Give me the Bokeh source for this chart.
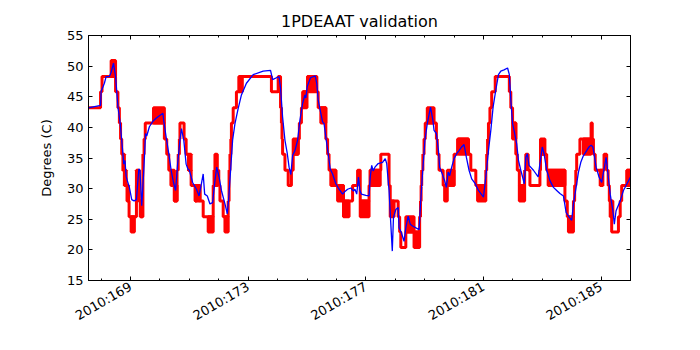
import math
from bokeh.plotting import figure
from bokeh.models import Range1d, FixedTicker, LinearAxis
from bokeh.embed import file_html
from bokeh.resources import INLINE

# ---------------- data ----------------
# model prediction (blue), day-of-year 2010 vs degC
model_day = [167.57, 167.98, 168.00, 168.06, 168.11, 168.17, 168.28, 168.34, 168.42, 168.49,
             168.57, 168.65, 168.71, 168.77, 168.81, 168.85, 168.89, 168.96, 169.04, 169.12,
             169.20, 169.28, 169.32, 169.38, 169.45, 169.51, 169.55, 169.64, 169.76, 169.87,
             169.98, 170.10, 170.13, 170.21, 170.30, 170.38, 170.46, 170.53, 170.60, 170.68,
             170.73, 170.81, 170.89, 170.95, 171.00, 171.11, 171.24, 171.33, 171.41, 171.47,
             171.52, 171.61, 171.70, 171.79, 171.87, 171.93, 172.01, 172.09, 172.21, 172.29,
             172.34, 172.40, 172.47, 172.55, 172.66, 172.77, 172.94, 173.17, 173.51, 173.76,
             173.83, 173.96, 174.05, 174.10, 174.17, 174.25, 174.33, 174.39, 174.45, 174.51,
             174.59, 174.68, 174.76, 174.85, 174.93, 174.96, 175.01, 175.12, 175.28, 175.33,
             175.38, 175.47, 175.53, 175.58, 175.64, 175.72, 175.79, 175.87, 175.98, 176.09,
             176.21, 176.26, 176.38, 176.49, 176.58, 176.63, 176.69, 176.75, 176.80, 176.85,
             177.00, 177.11, 177.15, 177.20, 177.25, 177.31, 177.42, 177.57, 177.66, 177.71,
             177.79, 177.85, 177.90, 177.94, 178.02, 178.10, 178.13, 178.21, 178.30, 178.36,
             178.44, 178.51, 178.59, 178.81, 178.86, 178.92, 179.01, 179.09, 179.20, 179.28,
             179.32, 179.40, 179.47, 179.51, 179.60, 179.68, 179.74, 179.80, 179.85, 179.92,
             180.00, 180.09, 180.17, 180.26, 180.34, 180.42, 180.51, 180.60, 180.72, 180.83,
             180.97, 181.00, 181.08, 181.17, 181.25, 181.33, 181.42, 181.51, 181.59, 181.70,
             181.82, 181.88, 181.93, 181.99, 182.05, 182.13, 182.19, 182.27, 182.33, 182.39,
             182.44, 182.49, 182.55, 182.70, 182.86, 182.92, 183.00, 183.06, 183.15, 183.26,
             183.38, 183.49, 183.60, 183.72, 183.81, 183.92, 184.00, 184.06, 184.15, 184.23,
             184.31, 184.40, 184.51, 184.59, 184.66, 184.72, 184.76, 184.83, 184.93, 185.02,
             185.17, 185.22, 185.31, 185.40, 185.45, 185.51, 185.65, 185.76, 185.88, 186.00]
model_degc = [43.2, 43.6, 45.9, 46.6, 47.2, 48.3, 48.3, 49.0, 50.5, 48.3,
              43.4, 40.6, 37.3, 34.0, 34.6, 32.0, 31.3, 30.2, 28.2, 28.0,
              28.2, 33.2, 33.0, 27.2, 33.0, 39.0, 38.6, 40.1, 41.0, 41.5,
              41.9, 42.3, 41.0, 38.4, 35.7, 33.0, 31.0, 29.7, 34.0, 37.9,
              39.8, 37.9, 34.0, 33.2, 33.0, 31.0, 29.9, 28.8, 30.8, 32.4,
              29.1, 28.8, 27.5, 27.7, 31.3, 33.5, 31.9, 29.7, 27.5, 25.9,
              28.6, 32.9, 37.9, 40.6, 43.1, 45.3, 47.2, 48.6, 49.2, 49.3,
              47.8, 48.1, 48.3, 46.4, 41.7, 37.9, 35.7, 33.5, 32.3, 35.4,
              36.2, 37.9, 41.2, 43.9, 45.3, 44.8, 46.7, 48.1, 48.4, 47.2,
              44.5, 42.3, 40.9, 40.6, 38.4, 35.7, 33.2, 32.4, 30.8, 29.9,
              29.1, 29.4, 29.9, 30.1, 29.6, 29.9, 29.1, 31.9, 29.7, 29.1,
              28.9, 28.8, 31.9, 33.8, 32.9, 33.5, 34.1, 34.3, 34.9, 34.1,
              29.7, 24.2, 19.8, 25.3, 26.6, 26.9, 23.6, 22.8, 21.4, 23.6,
              25.5, 24.2, 23.9, 23.3, 27.5, 31.9, 37.9, 40.6, 43.3, 41.2,
              39.5, 39.0, 36.2, 33.5, 32.4, 31.3, 30.2, 32.7, 32.1, 33.5,
              34.9, 35.7, 36.2, 36.8, 37.2, 35.1, 33.0, 31.6, 30.8, 29.7,
              28.8, 28.6, 31.9, 36.2, 39.5, 43.4, 46.1, 48.6, 49.2, 49.4,
              49.7, 48.6, 44.5, 40.6, 39.3, 37.3, 34.6, 33.0, 31.9, 30.8,
              35.1, 35.7, 33.8, 33.0, 31.9, 34.1, 36.8, 35.7, 33.0, 31.3,
              30.2, 29.7, 29.2, 28.8, 26.1, 25.3, 24.8, 27.5, 30.2, 32.7,
              34.3, 35.4, 36.2, 36.8, 37.1, 36.8, 35.7, 33.5, 31.9, 31.0,
              35.1, 33.0, 29.1, 26.4, 24.2, 26.4, 28.0, 29.7, 30.8, 31.9]

# telemetry (red), quantized, value holds from each time to the next
tlm_day = [167.57, 167.98, 168.03, 168.49, 168.57, 168.62, 168.66, 168.70, 168.76, 168.84,
           168.90, 168.95, 169.20, 169.24, 169.30, 169.36, 169.42, 169.46, 169.50, 170.15,
           170.23, 170.30, 170.38, 170.49, 170.58, 170.62, 170.66, 170.68, 170.82, 170.89,
           170.97, 171.06, 171.20, 171.24, 171.36, 171.47, 171.81, 171.84, 171.87, 171.95,
           172.00, 172.04, 172.15, 172.32, 172.35, 172.38, 172.41, 172.43, 172.49, 172.60,
           172.69, 173.79, 174.02, 174.10, 174.13, 174.15, 174.17, 174.25, 174.36, 174.47,
           174.53, 174.70, 174.74, 174.81, 174.86, 175.02, 175.33, 175.38, 175.64, 175.70,
           175.75, 175.98, 176.24, 176.55, 176.72, 176.81, 177.11, 177.15, 177.51, 177.79,
           177.83, 178.10, 178.15, 178.19, 178.36, 178.83, 178.86, 178.88, 178.90, 178.94,
           178.98, 179.02, 179.40, 179.43, 179.49, 179.63, 180.00, 180.12, 180.49, 180.57,
           180.74, 181.08, 181.11, 181.14, 181.17, 181.22, 181.28, 181.40, 181.88, 181.93,
           181.99, 182.10, 182.15, 182.22, 182.40, 182.44, 182.52, 182.58, 182.92, 182.94,
           183.15, 183.77, 183.85, 184.06, 184.10, 184.14, 184.17, 184.28, 184.66, 184.70,
           184.74, 184.80, 185.10, 185.19, 185.24, 185.28, 185.36, 185.59, 185.65, 185.70,
           185.88, 186.00]
tlm_degc = [43.2, 45.8, 48.3, 45.8, 43.2, 40.7, 38.1, 35.6, 33.0, 30.5,
            28.0, 25.4, 30.5, 33.0, 28.0, 25.4, 35.6, 38.1, 40.7, 38.1,
            35.6, 33.0, 30.5, 28.0, 33.0, 35.6, 38.1, 40.7, 38.1, 35.6,
            33.0, 30.5, 28.0, 30.5, 28.0, 25.4, 30.5, 33.0, 35.6, 33.0,
            30.5, 28.0, 25.4, 28.0, 33.0, 35.6, 38.1, 40.7, 43.2, 45.8,
            48.3, 45.8, 48.3, 43.2, 40.7, 38.1, 35.6, 33.0, 30.5, 33.0,
            35.6, 38.1, 40.7, 43.2, 45.8, 48.3, 45.8, 43.2, 38.1, 35.6,
            33.0, 30.5, 28.0, 30.5, 33.0, 28.0, 30.5, 33.0, 35.6, 30.5,
            28.0, 25.4, 22.9, 20.4, 22.9, 25.4, 28.0, 30.5, 33.0, 35.6,
            38.1, 40.7, 38.1, 35.6, 33.0, 30.5, 35.6, 38.1, 35.6, 33.0,
            30.5, 33.0, 35.6, 38.1, 40.7, 43.2, 45.8, 48.3, 45.8, 43.2,
            40.7, 35.6, 33.0, 30.5, 33.0, 35.6, 33.0, 30.5, 33.0, 35.6,
            33.0, 28.0, 25.4, 28.0, 30.5, 33.0, 35.6, 38.1, 40.7, 38.1,
            35.6, 33.0, 35.6, 33.0, 30.5, 28.0, 22.9, 25.4, 28.0, 30.5,
            33.0, 33.0]

# intervals where telemetry toggles rapidly between two adjacent levels
dither_start = [168.34, 168.74, 168.79, 168.88, 169.02, 169.20, 169.33, 169.78, 170.38, 170.49,
                170.97, 171.20, 171.64, 171.87, 172.21, 172.69, 174.53, 174.86, 175.02, 175.47,
                175.81, 176.04, 176.24, 176.81, 177.15, 177.83, 178.36, 178.64, 179.09, 179.68,
                179.77, 180.15, 180.80, 181.99, 182.22, 182.94, 183.20, 183.89, 184.40, 184.97,
                185.31, 185.88]
dither_stop = [168.49, 168.79, 168.85, 168.93, 169.13, 169.26, 169.40, 170.15, 170.49, 170.58,
               171.06, 171.36, 171.81, 171.97, 172.32, 172.80, 174.70, 175.00, 175.33, 175.64,
               175.98, 176.24, 176.43, 177.11, 177.49, 177.96, 178.64, 178.83, 179.32, 179.77,
               180.00, 180.49, 181.08, 182.10, 182.40, 183.09, 183.77, 184.06, 184.66, 185.06,
               185.40, 186.00]
dither_low = [48.3, 33.0, 30.5, 28.0, 22.9, 28.0, 25.4, 40.7, 30.5, 28.0,
              33.0, 28.0, 22.9, 30.5, 22.9, 45.8, 35.6, 43.2, 45.8, 40.7,
              30.5, 28.0, 25.4, 25.4, 30.5, 25.4, 22.9, 20.4, 40.7, 28.0,
              30.5, 35.6, 28.0, 38.1, 28.0, 35.6, 30.5, 22.9, 35.6, 30.5,
              25.4, 30.5]
dither_high = [50.9, 35.6, 33.0, 30.5, 25.4, 33.0, 28.0, 43.2, 33.0, 30.5,
               35.6, 30.5, 25.4, 33.0, 25.4, 48.3, 38.1, 45.8, 48.3, 43.2,
               33.0, 30.5, 28.0, 28.0, 33.0, 28.0, 25.4, 22.9, 43.2, 30.5,
               33.0, 38.1, 30.5, 40.7, 30.5, 38.1, 33.0, 25.4, 38.1, 33.0,
               28.0, 33.0]

x_ticks = [169, 173, 177, 181, 185]
x_tick_labels = ["2010:169", "2010:173", "2010:177", "2010:181", "2010:185"]
x_minor_ticks = list(range(168, 187))
y_ticks = [15, 20, 25, 30, 35, 40, 45, 50, 55]

FONT = "DejaVu Sans"

p = figure(width=700, height=350, output_backend="svg", toolbar_location=None,
           x_range=Range1d(167.57, 186.0), y_range=Range1d(15, 55),
           x_axis_type=None, y_axis_type=None,
           min_border_left=88, min_border_right=70, min_border_top=35, min_border_bottom=70,
           title="1PDEAAT validation")
p.background_fill_color = "white"
p.border_fill_color = "white"
p.outline_line_color = "black"
p.outline_line_width = 1
p.title.text_font = FONT
p.title.text_font_size = "16px"
p.title.text_font_style = "normal"
p.title.align = "center"
p.title.text_color = "black"

xt = FixedTicker(ticks=x_ticks, minor_ticks=x_minor_ticks)
yt = FixedTicker(ticks=y_ticks)


def style(ax, labels, ticks):
    ax.axis_line_color = "black"
    ax.major_tick_line_color = "black"
    ax.minor_tick_line_color = "black"
    ax.major_tick_in = 4
    ax.major_tick_out = 0
    ax.minor_tick_in = 2
    ax.minor_tick_out = 0
    ax.major_label_text_font = FONT
    ax.major_label_text_color = "black"
    ax.major_label_text_font_size = "13px"
    if labels:
        ax.major_label_standoff = 5
    else:
        ax.major_label_overrides = {t: "" for t in ticks}
        ax.major_label_standoff = 0


bottom = LinearAxis(ticker=xt)
style(bottom, True, x_ticks)
bottom.major_label_overrides = dict(zip(x_ticks, x_tick_labels))
bottom.major_label_orientation = math.pi / 6
p.add_layout(bottom, "below")

top = LinearAxis(ticker=xt)
style(top, False, x_ticks)
p.add_layout(top, "above")

left = LinearAxis(ticker=yt, axis_label="Degrees (C)")
style(left, True, y_ticks)
left.minor_tick_line_color = None
left.axis_label_text_font = FONT
left.axis_label_text_font_size = "13px"
left.axis_label_text_font_style = "normal"
left.axis_label_text_color = "black"
left.axis_label_standoff = 10
p.add_layout(left, "left")

right = LinearAxis(ticker=yt)
style(right, False, y_ticks)
right.minor_tick_line_color = None
p.add_layout(right, "right")

p.quad(left=dither_start, right=dither_stop, bottom=dither_low, top=dither_high,
       fill_color="red", line_color="red", line_width=3)
p.step(tlm_day, tlm_degc, mode="after", line_color="red", line_width=3)
p.line(model_day, model_degc, line_color="blue", line_width=1.3)

open("out.html", "w").write(file_html(p, INLINE))
